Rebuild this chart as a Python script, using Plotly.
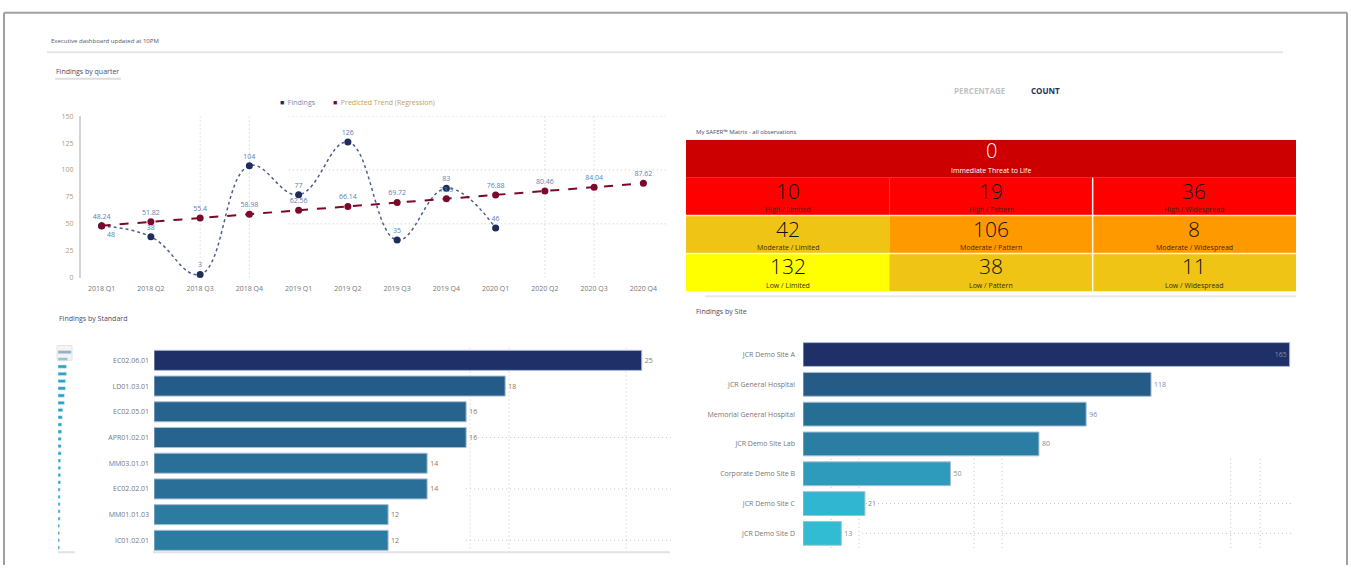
import plotly.graph_objects as go

W, H = 1351, 569

# ---------------- data ----------------
quarters = ["2018 Q1", "2018 Q2", "2018 Q3", "2018 Q4", "2019 Q1", "2019 Q2",
            "2019 Q3", "2019 Q4", "2020 Q1", "2020 Q2", "2020 Q3", "2020 Q4"]
findings = [48, 38, 3, 104, 77, 126, 35, 83, 46]
trend = [48.24, 51.82, 55.40, 58.98, 62.56, 66.14, 69.72, 73.30, 76.88, 80.46, 84.04, 87.62]

matrix_rows = ["High", "Moderate", "Low"]
matrix_cols = ["Limited", "Pattern", "Widespread"]
matrix_counts = [[10, 19, 36], [42, 106, 8], [132, 38, 11]]
itl_label = "Immediate Threat to Life"
itl_count = 0

standards = ["EC02.06.01", "LD01.03.01", "EC02.05.01", "APR01.02.01",
             "MM03.01.01", "EC02.02.01", "MM01.01.03", "IC01.02.01"]
standard_counts = [25, 18, 16, 16, 14, 14, 12, 12]
overview_counts = [25, 18, 16, 16, 14, 14, 12, 12, 9, 8, 7, 7, 6, 6, 6, 5,
                   5, 5, 5, 4, 4, 4, 4, 4, 3, 3, 3, 3]

sites = ["JCR Demo Site A", "JCR General Hospital", "Memorial General Hospital",
         "JCR Demo Site Lab", "Corporate Demo Site B", "JCR Demo Site C", "JCR Demo Site D"]
site_counts = [165, 118, 96, 80, 50, 21, 13]

# ---------------- styles ----------------
FONT = "Open Sans"
NAVY = "#1f2d5c"
MAROON = "#7b0a2a"
GRID = "#c4c4c4"
matrix_colors = [["#ff0000", "#ff0000", "#ff0000"],
                 ["#f0c414", "#ff9900", "#ff9900"],
                 ["#ffff00", "#f0c414", "#f0c414"]]
itl_color = "#cc0000"
standard_colors = ["#1f3068", "#255c87", "#26648e", "#26648e",
                   "#2a6f97", "#2a6f97", "#2c7ca2", "#2c7ca2"]
site_colors = ["#1f3068", "#255c87", "#276e94", "#2a7ea3", "#2e9bbd", "#30b6d0", "#32bcd4"]


def px(x):
    return x / W


def py(y):
    return 1 - y / H


fig = go.Figure()

# ---------------- line chart ----------------
find_pos = ["bottom right"] + ["top center"] * (len(findings) - 1)
fig.add_trace(go.Scatter(
    x=quarters[:len(findings)], y=findings, mode="lines+markers+text",
    line=dict(color="#4f5f8c", width=1.5, dash="dot", shape="spline", smoothing=1.2),
    marker=dict(color=NAVY, size=7),
    text=[str(v) for v in findings], textposition=find_pos,
    textfont=dict(size=7, color="#5a7fb8", family=FONT),
    xaxis="x", yaxis="y", showlegend=False, cliponaxis=False))
fig.add_trace(go.Scatter(
    x=quarters, y=trend, mode="lines+markers+text",
    line=dict(color=MAROON, width=2, dash="dash"),
    marker=dict(color=MAROON, size=7),
    text=[f"{v:g}" for v in trend], textposition="top center",
    textfont=dict(size=7, color="#5a7fb8", family=FONT),
    xaxis="x", yaxis="y", showlegend=False, cliponaxis=False))

# ---------------- SAFER matrix (bars as cells) ----------------
cell_x, cell_base, cell_y, cell_col = [], [], [], []
cell_x.append(3)
cell_base.append(0)
cell_y.append("ITL")
cell_col.append(itl_color)
for r, rname in enumerate(matrix_rows):
    for c in range(len(matrix_cols)):
        cell_x.append(1)
        cell_base.append(c)
        cell_y.append(rname)
        cell_col.append(matrix_colors[r][c])
fig.add_trace(go.Bar(
    x=cell_x, base=cell_base, y=cell_y, orientation="h", width=1,
    marker=dict(color=cell_col, line=dict(width=0)),
    xaxis="x2", yaxis="y2", showlegend=False, hoverinfo="skip"))

# ---------------- findings by standard ----------------
fig.add_trace(go.Bar(
    x=standard_counts, y=standards, orientation="h", width=0.78,
    marker=dict(color=standard_colors, line=dict(color="#a9bfd6", width=1)),
    text=[str(v) for v in standard_counts], textposition="outside",
    textfont=dict(size=7, color="#8a7a5a", family=FONT),
    xaxis="x3", yaxis="y3", showlegend=False, cliponaxis=False))

# overview mini-map
fig.add_trace(go.Bar(
    x=overview_counts, y=list(range(len(overview_counts))), orientation="h", width=0.45,
    marker=dict(color=["#4f86ae"] + ["#2aa3c4"] * (len(overview_counts) - 1)),
    xaxis="x5", yaxis="y5", showlegend=False, hoverinfo="skip"))

# ---------------- findings by site ----------------
site_pos = ["inside"] + ["outside"] * (len(site_counts) - 1)
fig.add_trace(go.Bar(
    x=site_counts, y=sites, orientation="h", width=0.8,
    marker=dict(color=site_colors, line=dict(color="#a9bfd6", width=1)),
    text=[str(v) for v in site_counts], textposition=site_pos, insidetextanchor="end",
    textfont=dict(size=7, color="#7f8fa6", family=FONT),
    xaxis="x4", yaxis="y4", showlegend=False, cliponaxis=False))

# ---------------- annotations ----------------
ann = []


def text(x, y, s, size=7, color="#555", xanchor="left", bold=False, xref="paper", yref="paper"):
    ann.append(dict(x=x, y=y, xref=xref, yref=yref, text=f"<b>{s}</b>" if bold else s,
                    showarrow=False, xanchor=xanchor, yanchor="middle",
                    font=dict(size=size, color=color, family=FONT)))


text(px(49), py(37), "Executive dashboard updated at 10PM", 6, "#556")
text(px(54), py(68), "Findings by quarter", 7, "#4a4a6a")
text(px(57), py(319), "Findings by Standard", 7, "#4a4a6a")
text(px(694), py(311), "Findings by Site", 7, "#4a4a6a")
text(px(694), py(129), "My SAFER\u2122 Matrix - all observations", 6, "#4a4a6a")
text(px(980), py(87), "PERCENTAGE", 8, "#c2c2c2", "center", bold=True)
text(px(1045), py(87), "COUNT", 8, "#22305e", "center", bold=True)
# legend
text(px(278), py(99), f"<span style='color:{NAVY}'>\u25A0</span>  Findings", 7, "#7a8ab0")
text(px(331), py(99), f"<span style='color:{MAROON}'>\u25A0</span>  Predicted Trend (Regression)", 7, "#c0a060")

# matrix numbers & labels
ann.append(dict(x=1.5, y="ITL", xref="x2", yref="y2", text=str(itl_count), showarrow=False,
                yshift=8, font=dict(size=20, color="white", family=FONT, weight=300)))
ann.append(dict(x=1.5, y="ITL", xref="x2", yref="y2", text=itl_label, showarrow=False,
                yshift=-12, font=dict(size=7, color="white", family=FONT)))
for r, rname in enumerate(matrix_rows):
    for c, cname in enumerate(matrix_cols):
        ann.append(dict(x=c + 0.5, y=rname, xref="x2", yref="y2", text=str(matrix_counts[r][c]),
                        showarrow=False, yshift=6,
                        font=dict(size=21, color="#111", family=FONT, weight=300)))
        ann.append(dict(x=c + 0.5, y=rname, xref="x2", yref="y2", text=f"{rname} / {cname}",
                        showarrow=False, yshift=-13,
                        font=dict(size=7, color="#3a2a10", family=FONT)))

# ---------------- shapes (frame, separators, partial dotted grid) ----------------
shapes = []


def pline(x0, y0, x1, y1, color, width=1, dash="solid"):
    shapes.append(dict(type="line", xref="paper", yref="paper", x0=px(x0), y0=py(y0),
                       x1=px(x1), y1=py(y1), line=dict(color=color, width=width, dash=dash)))


pline(4, 8, 1347, 8, "#a0a0a0", 2)
pline(4, 8, 4, 569, "#a0a0a0", 2)
pline(1347, 8, 1347, 569, "#a0a0a0", 2)
pline(47, 48, 1283, 48, "#e6e6e6", 2)
pline(55, 75, 121, 75, "#dddddd", 2)
pline(705, 296, 1296, 296, "#e8e8e8", 2)
pline(153, 556, 670, 556, "#e2e2e2", 2)
pline(58, 556, 75, 556, "#e2e2e2", 2)
shapes.append(dict(type="rect", xref="paper", yref="paper", x0=px(57), y0=py(346),
                   x1=px(72), y1=py(361), line=dict(color="#e4e4e4", width=1),
                   fillcolor="rgba(230,230,230,0.45)"))

# matrix separators
shapes.append(dict(type="line", xref="x2", yref="y2", x0=2, x1=2, y0=0.5, y1=3.5,
                   line=dict(color="rgba(255,255,255,0.9)", width=1.5)))
for yy in (1.5, 2.5):
    shapes.append(dict(type="line", xref="x2", yref="y2", x0=0, x1=3, y0=yy, y1=yy,
                       line=dict(color="rgba(255,255,255,0.8)", width=1.5)))


def grid(xref, yref, x0, y0, x1, y1):
    shapes.append(dict(type="line", xref=xref, yref=yref, x0=x0, y0=y0, x1=x1, y1=y1,
                       layer="below", line=dict(color=GRID, width=1, dash="1px,3px")))


for q in (2, 3, 9, 10):
    grid("x", "y", q, 0, q, 150)
for v in (50, 100, 150):
    grid("x", "y", 3.8, v, 11.5, v)
for v in (16.2, 18.2, 24.2):
    grid("x3", "y3", v, -0.5, v, 7.5)
for r in (3, 5, 7):
    grid("x3", "y3", 16, r, 26.5, r)
for v in (9.5, 19, 58, 67.5, 145, 155):
    grid("x4", "y4", v, 3.5, v, 6.5)
for r in (5, 6):
    grid("x4", "y4", 20, r, 166, r)

axis_font = dict(size=7, color="#777", family=FONT)
fig.update_layout(
    width=W, height=H, margin=dict(l=0, r=0, t=0, b=0),
    paper_bgcolor="white", plot_bgcolor="white", barmode="overlay",
    font=dict(family=FONT), showlegend=False,
    annotations=ann, shapes=shapes,
    xaxis=dict(domain=[px(77), px(668)], type="category", range=[-0.5, 11.5],
               showgrid=False, zeroline=False, showline=False, tickfont=axis_font,
               ticks="", anchor="y", fixedrange=True, ticklabelstandoff=5),
    yaxis=dict(domain=[py(277), py(113)], range=[0, 150], dtick=25, showgrid=False,
               zeroline=False, showline=True, linecolor="#d4d4d4", linewidth=2,
               tickfont=dict(size=7, color="#b09a70", family=FONT), ticks="",
               anchor="free", position=px(80), ticklabelstandoff=4),
    xaxis2=dict(domain=[px(686), px(1296)], range=[0, 3], visible=False, anchor="y2"),
    yaxis2=dict(domain=[py(291), py(137)], type="category",
                categoryorder="array", categoryarray=["ITL"] + matrix_rows,
                range=[3.5, -0.5], visible=False, anchor="x2"),
    xaxis3=dict(domain=[px(154), px(671)], range=[0, 26.5], visible=False, anchor="y3"),
    yaxis3=dict(domain=[py(557), py(348)], type="category", categoryorder="array",
                categoryarray=standards, range=[7.5, -0.5], showgrid=False, zeroline=False,
                showline=False, ticks="", tickfont=axis_font, anchor="x3",
                ticklabelstandoff=4),
    xaxis4=dict(domain=[px(803), px(1300)], range=[0, 168.5], visible=False, anchor="y4"),
    yaxis4=dict(domain=[py(552), py(340)], type="category", categoryorder="array",
                categoryarray=sites, range=[6.5, -0.5], showgrid=False, zeroline=False,
                showline=False, ticks="", tickfont=axis_font, anchor="x4",
                ticklabelstandoff=7),
    xaxis5=dict(domain=[px(58), px(74)], range=[0, 30], visible=False, anchor="y5"),
    yaxis5=dict(domain=[py(555), py(349)], range=[len(overview_counts) - 0.5, -0.5],
                visible=False, anchor="x5"),
)

fig.write_html("out.html", config={"displayModeBar": False},
               post_script="document.body.style.margin='0';")
